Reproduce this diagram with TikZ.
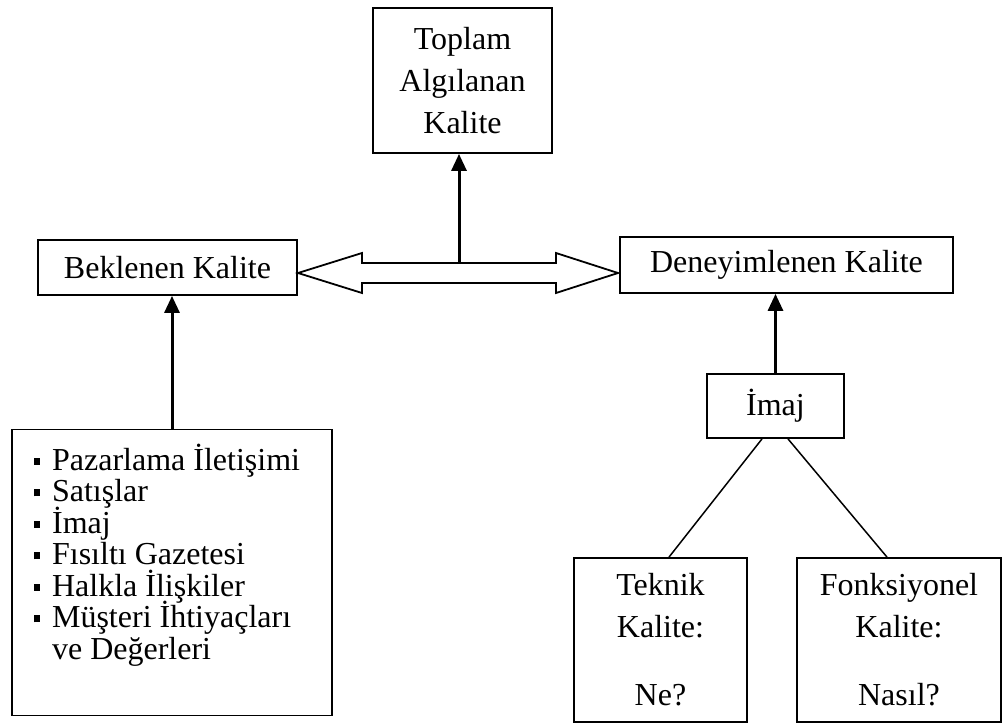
\documentclass[tikz,border=0pt]{standalone}
\usepackage{fontspec}
\setmainfont{Liberation Serif}
\usetikzlibrary{arrows.meta,calc}
% small square bullet followed by the gap to the item text
\newcommand\sqbul{\makebox[9.3pt][l]{\raisebox{2.6pt}{\rule{3.5pt}{3.5pt}}}}
% keep list lines evenly spaced even when accents touch
\newcommand\tightlines{\lineskiplimit=-20pt\relax\lineskip=0pt\relax}

\begin{document}
\begin{tikzpicture}[x=0.5pt,y=-0.5pt,
  box/.style={draw,line width=0.9pt,rectangle,inner sep=0pt,
    font=\fontsize{16}{21}\selectfont,align=center},
  arr/.style={line width=1.5pt,-{Triangle[width=7.5pt,length=8.5pt]}},
  link/.style={line width=0.75pt}]
\useasboundingbox (0,0) rectangle (1003,724);

% boxes
\node[box,minimum width=89.5pt,minimum height=72.5pt] (top) at (462.5,80.5)
  {Toplam\\Algılanan\\Kalite};
\node[box,minimum width=129.5pt,minimum height=27.5pt] (bek) at (167.5,267.5)
  {Beklenen Kalite};
\node[box,minimum width=166.5pt,minimum height=28pt] (den) at (786.5,265)
  {Deneyimlenen Kalite};
\node[box,minimum width=68.5pt,minimum height=32pt] (imaj) at (775.5,406)
  {İmaj};
\node[box,minimum width=86.5pt,minimum height=82pt] (tek) at (660.5,640)
  {Teknik\\Kalite:\\[13pt]Ne?};
\node[box,minimum width=102pt,minimum height=82pt] (fonk) at (899,640)
  {Fonksiyonel\\Kalite:\\[13pt]Nasıl?};
\node[box,minimum width=160pt,minimum height=143pt] (list) at (172,572.5) {};

% bulleted list inside the lower left box
\node[anchor=north west,inner sep=0pt,align=left,
      font={\fontsize{16}{15.75}\selectfont\tightlines}] (items)
  at ($(list.north west)+(22,11)$)
  {\rule{0pt}{15pt}\sqbul Pazarlama İletişimi\\
   \sqbul Satışlar\\
   \sqbul İmaj\\
   \sqbul Fısıltı Gazetesi\\
   \sqbul Halkla İlişkiler\\
   \sqbul Müşteri İhtiyaçları\\
   \hspace*{9.3pt}ve Değerleri};

% two-headed hollow arrow between expected and experienced quality
\coordinate (mid) at (459,263);
\draw[line width=0.9pt,line join=miter]
  (298,273) -- (362,253) -- (362,263) -- (556,263) -- (556,253) -- (618,273)
  -- (556,293) -- (556,283) -- (362,283) -- (362,293) -- cycle;

% arrows
\draw[arr] (mid) -- (mid |- top.south);
\draw[arr] (list.north) -- (list.north |- bek.south);
\draw[arr] (imaj.north) -- (imaj.north |- den.south);

% image branches
\draw[link] ($(imaj.south)+(-13.5,0)$) -- ($(tek.north)+(8.5,0)$);
\draw[link] ($(imaj.south)+(12.5,0)$) -- ($(fonk.north)+(-12,0)$);
\end{tikzpicture}
\end{document}
